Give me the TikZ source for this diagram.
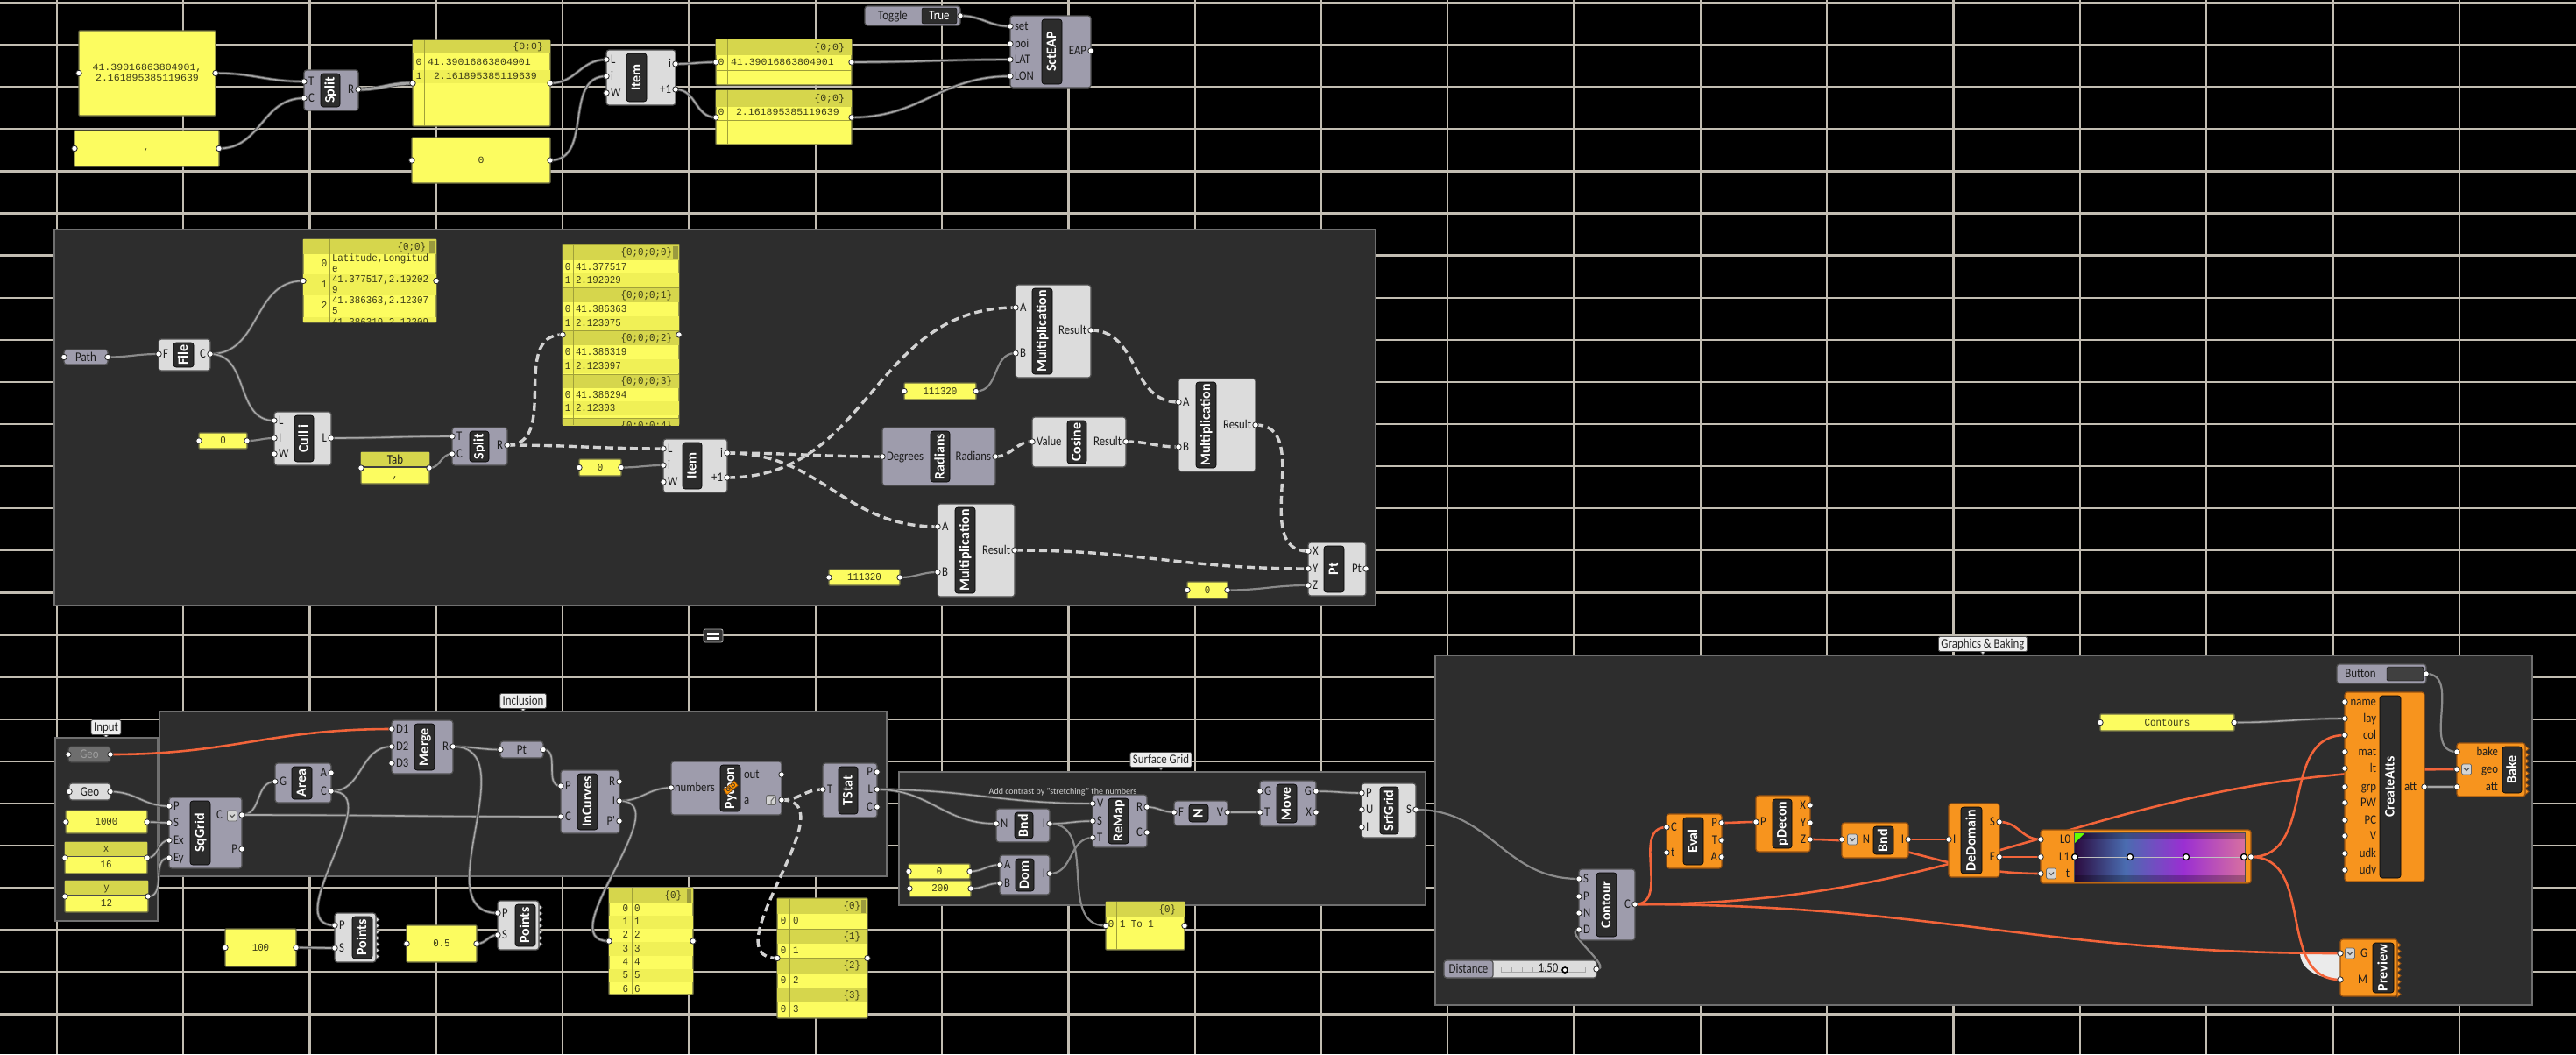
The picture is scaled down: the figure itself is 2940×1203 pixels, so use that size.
\documentclass[tikz,border=0pt]{standalone}
\usepackage{fontspec}
\setmainfont{Carlito}
\newfontfamily\lblf{Carlito}[FakeStretch=0.86]
\newfontfamily\monof{Liberation Mono}[FakeStretch=0.9]
\newfontfamily\monow{Liberation Mono}[FakeStretch=1.05]
\usetikzlibrary{fit}
\pgfdeclarelayer{bg}
\pgfdeclarelayer{wires}
\pgfsetlayers{bg,wires,main}
\definecolor{ghgray}{HTML}{9E9CAC}
\definecolor{ghlight}{HTML}{DCDCDC}
\definecolor{ghorange}{HTML}{F7941E}
\definecolor{ghoborder}{HTML}{9A5210}
\definecolor{ghborder}{HTML}{505050}
\definecolor{ghstrip}{HTML}{2C2C2C}
\definecolor{ghtext}{HTML}{1C1C1C}
\definecolor{panelY}{HTML}{FCFC60}
\definecolor{panelH}{HTML}{D6D64C}
\definecolor{panelR}{HTML}{F0F056}
\definecolor{panelB}{HTML}{6E6E44}
\definecolor{paneltext}{HTML}{3A3A18}
\definecolor{scrollc}{HTML}{9A9A3E}
\definecolor{gridc}{HTML}{C2BDB2}
\definecolor{groupc}{HTML}{2D2D2D}
\definecolor{groupb}{HTML}{707070}
\definecolor{wiregray}{HTML}{8A8A8A}
\definecolor{wiredark}{HTML}{4C4C4C}
\definecolor{wirelight}{HTML}{A6A6A6}
\definecolor{treewire}{HTML}{D2D2D2}
\definecolor{orangewire}{HTML}{F2643A}
\definecolor{labc}{HTML}{EEEEEE}
\definecolor{iconc}{HTML}{D4D4D4}
\definecolor{gA}{HTML}{2B0A3E}
\definecolor{gB}{HTML}{4A6CB0}
\definecolor{gC}{HTML}{9A2FD2}
\definecolor{gD}{HTML}{D870A0}
\pgfdeclarehorizontalshading{ghgrad}{100bp}{color(0bp)=(gA); color(25bp)=(gA); color(40bp)=(gB); color(57bp)=(gC); color(75bp)=(gD); color(100bp)=(gD)}
\tikzset{
  every node/.style={inner sep=0pt, outer sep=0pt},
  gray comp/.style={draw=ghborder, fill=ghgray, line width=1.2pt, rounded corners=3pt},
  light comp/.style={draw=ghborder, fill=ghlight, line width=1.2pt, rounded corners=3pt},
  orange comp/.style={draw=ghoborder, fill=ghorange, line width=1.2pt, rounded corners=3pt},
  geod/.style={draw=black!75, fill=black!57, line width=1.2pt, rounded corners=3pt},
  stripbox/.style={fill=ghstrip, draw=black, line width=0.6pt, rounded corners=3pt},
  stripf/.style={text=white, font=\fontsize{16}{16}\selectfont\bfseries, text height=10.5pt, text depth=1.5pt},
  portc/.style={circle, minimum size=6.5pt, fill=white, draw=black!85, line width=0.8pt},
  portlbl/.style={text=ghtext, font=\lblf\fontsize{14.8}{14.8}\selectfont, text height=10pt, text depth=1pt},
  lbltxt/.style={text=ghtext, font=\lblf\fontsize{15}{15}\selectfont, text height=10pt, text depth=1pt},
  notef/.style={text=black!18, font=\fontsize{10}{10}\selectfont},
  panelbox/.style={draw=panelB, fill=panelY, line width=1.2pt, rounded corners=1pt},
  ptext/.style={text=paneltext, font=\monof\fontsize{12}{12}\selectfont, text height=8pt, text depth=1pt},
  ptextw/.style={text=paneltext, font=\monow\fontsize{11}{11}\selectfont, text height=7.5pt, text depth=1pt},
  psep/.style={draw=panelH!75!black, line width=0.7pt},
  scroll/.style={fill=scrollc},
  wire/.style={draw=wiregray, line width=2.2pt},
  lwire/.style={draw=wiredark, double=wirelight, double distance=1.6pt, line width=0.9pt},
  twire/.style={draw=treewire, line width=3.4pt, dash pattern=on 9pt off 5pt},
  owire/.style={draw=orangewire, line width=2.6pt},
  gridl/.style={draw=gridc, line width=2.3pt},
  ghgroup/.style={fill=groupc, draw=groupb, line width=1.2pt},
  glabel/.style={fill=labc, draw=black!70, line width=0.8pt, rounded corners=1.5pt, inner xsep=3pt, inner ysep=2.5pt, text=black!85, font=\lblf\fontsize{15}{15}\selectfont, text height=10pt, text depth=2pt},
  gh/.style={out=0, in=180, looseness=1.1}
}
\newcounter{auto}
\newcommand\ghT[3][]{\stepcounter{auto}\node[#1] (t\theauto) at (#2) {#3};}
\newcommand\ghcomp[9]{%
  \node[#1, fit={(#3,#4)(#5,#6)}] (#2) {};
  \node[stripbox, fit={(#7,{#4+4})(#8,{#6-4})}] (#2s) {};
  \node[stripf, rotate=90] (#2t) at (#2s.center) {#9};}
\newcommand\ghportL[5]{\coordinate (#1) at (#2,#3); \node[portlbl, anchor=west] (#1l) at (#5,#3) {#4}; \node[portc] (#1c) at (#2,#3) {};}
\newcommand\ghportR[5]{\coordinate (#1) at (#2,#3); \node[portlbl, anchor=east] (#1l) at (#5,#3) {#4}; \node[portc] (#1c) at (#2,#3) {};}
\newcommand\ghpin[4]{\ghportL{#1}{#2}{#3}{#4}{{#2+5}}}
\newcommand\ghpout[4]{\ghportR{#1}{#2}{#3}{#4}{{#2-5}}}
\newcommand\ghparam[7]{%
  \node[#1, fit={(#3,#4)(#5,#6)}] (#2) {};
  \node[lbltxt] (#2t) at (#2.center) {#7};
  \coordinate (#2i) at (#2.west); \coordinate (#2o) at (#2.east);
  \node[portc] (#2ic) at (#2i) {}; \node[portc] (#2oc) at (#2o) {};}
\newcommand\ghpbox[6]{%
  \node[panelbox, fit={(#2,#3)(#4,#5)}] (#1) {};
  #6
  \coordinate (#1i) at (#1.west); \coordinate (#1o) at (#1.east);
  \node[portc] (#1ic) at (#1i) {}; \node[portc] (#1oc) at (#1o) {};}
\newcommand\ghsec[5]{\fill[panelH] (#1,#3) rectangle (#2,#4); \draw[psep] (#1,#3) -- (#2,#3); \ghT[ptext,anchor=east]{{#2-8},{(#3+#4)/2}}{#5}}
\newcommand\ghjag[5]{\foreach \k in {1,...,#3} {\filldraw[fill=#4, draw=#5, line width=0.7pt] (#1,{#2+7*(\k-1)}) -- ({#1+4},{#2+7*(\k-1)+3.5}) -- (#1,{#2+7*\k}) -- cycle;}}
\newcommand\ghicon[3]{\node[fill=iconc, draw=black!60, line width=0.7pt, rounded corners=1.5pt, minimum width=11pt, minimum height=12pt] (#1) at (#2,#3) {}; \draw[black!65, line width=1.3pt] ({#2-3},{#3-1.5}) -- (#2,{#3+1.5}) -- ({#2+3},{#3-1.5});}
\newcommand\ghlab[4]{\filldraw[fill=labc, draw=black!70, line width=0.8pt] ({#2-4},{#3+7}) -- (#2,{#3+12}) -- ({#2+4},{#3+7}) -- cycle; \node[glabel] (#1) at (#2,#3) {#4};}
\begin{document}
\begin{tikzpicture}[x=1pt,y=-1pt]
\useasboundingbox (0,0) rectangle (2940,1203);
\begin{pgfonlayer}{bg}
  \fill[black] (0,0) rectangle (2940,1203);
  \foreach \i in {0,...,19} {\draw[gridl] ({65+144.3*\i},0) -- ({65+144.3*\i},1203);}
  \foreach \i in {0,...,24} {\draw[gridl] (0,{3+48.1*\i}) -- (2940,{3+48.1*\i});}
  \node[ghgroup, fit={(62,262)(1570,691)}] (gMid) {};
  \node[ghgroup, fit={(63,842)(180,1051)}] (gInput) {};
  \node[ghgroup, fit={(182,812)(1012,1000)}] (gIncl) {};
  \node[ghgroup, fit={(1026,881)(1627,1033)}] (gSurf) {};
  \node[ghgroup, fit={(1638,748)(2890,1147)}] (gGfx) {};
\end{pgfonlayer}
% group labels
\ghlab{lInput}{121}{830}{Input}
\ghlab{lIncl}{597}{800}{Inclusion}
\ghlab{lSurf}{1325}{867}{Surface Grid}
\ghlab{lGfx}{2263}{735}{Graphics \& Baking}
% ================= TOP =================
\ghpbox{p1}{90}{35}{246}{132}{\ghT[ptextw]{168,77}{41.39016863804901,}\ghT[ptextw]{168,89}{2.161895385119639}}
\ghpbox{p2}{85}{149}{250}{190}{\ghT[ptextw]{167,168}{,}}
\ghcomp{gray comp}{sp1}{347}{80}{409}{126}{366}{388}{Split}
\ghpin{sp1T}{347}{93}{T} \ghpin{sp1C}{347}{112}{C} \ghpout{sp1R}{409}{102}{R}
\ghpbox{p3}{471}{46}{628}{144}{\fill[panelH] (471,46) rectangle (628,60); \ghT[ptextw,anchor=east]{620,53}{\{0;0\}} \fill[panelR] (471,80) rectangle (628,95); \draw[psep] (484,46) -- (484,144); \ghT[ptextw]{478,71}{0} \ghT[ptextw,anchor=west]{488,71}{41.39016863804901} \ghT[ptextw]{478,87}{1} \ghT[ptextw,anchor=west]{495,87}{2.161895385119639}}
\ghpbox{p4}{470}{157}{628}{209}{\ghT[ptextw]{549,183}{0}}
\ghcomp{light comp}{it1}{692}{57}{771}{120}{715}{738}{Item}
\ghpin{it1L}{692}{68}{L} \ghpin{it1i}{692}{87}{i} \ghpin{it1W}{692}{106}{W} \ghpout{it1io}{771}{73}{i} \ghpout{it1p}{771}{102}{+1}
\ghpbox{p5}{817}{45}{972}{97}{\fill[panelH] (817,45) rectangle (972,63); \ghT[ptextw,anchor=east]{964,54}{\{0;0\}} \draw[psep] (830,45) -- (830,97); \draw[psep] (817,80) -- (972,80); \ghT[ptextw]{823,71}{0} \ghT[ptextw,anchor=west]{834,71}{41.39016863804901}}
\ghpbox{p6}{817}{103}{972}{165}{\fill[panelH] (817,103) rectangle (972,122); \ghT[ptextw,anchor=east]{964,112}{\{0;0\}} \draw[psep] (830,103) -- (830,165); \draw[psep] (817,137) -- (972,137); \ghT[ptextw]{823,128}{0} \ghT[ptextw,anchor=west]{840,128}{2.161895385119639}}
\node[gray comp, fit={(987,7)(1096,29)}] (tog) {};
\node[lbltxt] (togl) at (1019,18) {Toggle};
\node[fill=ghstrip, draw=black, rounded corners=2pt, fit={(1052,9)(1092,27)}] (togb) {};
\node[lbltxt, text=white] (togv) at (1072,18) {True};
\coordinate (togo) at (1096,18); \node[portc] (togoc) at (togo) {};
\ghcomp{gray comp}{sct}{1153}{18}{1245}{100}{1189}{1212}{SctEAP}
\ghpin{sctset}{1153}{30}{set} \ghpin{sctpoi}{1153}{50}{poi} \ghpin{sctLAT}{1153}{68}{LAT} \ghpin{sctLON}{1153}{87}{LON} \ghpout{sctEAP}{1245}{58}{EAP}
% ================= MIDDLE GROUP =================
\ghparam{gray comp}{path}{73}{399}{123}{416}{Path}
\ghcomp{light comp}{file}{181}{387}{240}{423}{198}{221}{File}
\ghpin{fileF}{181}{404}{F} \ghpout{fileC}{240}{404}{C}
\ghpbox{csv}{346}{273}{498}{368}{\begin{scope}\clip (346,273) rectangle (498,368);
  \fill[panelH] (346,273) rectangle (498,290);
  \fill[scroll] (490,275) rectangle (496,289);
  \ghT[ptext,anchor=east]{486,282}{\{0;0\}}
  \fill[panelR] (346,313) rectangle (498,337);
  \fill[panelR] (346,362) rectangle (498,368);
  \draw[psep] (376,273) -- (376,368);
  \ghT[ptext]{370,301}{0} \ghT[ptext,anchor=west]{379,295}{Latitude,Longitud} \ghT[ptext,anchor=west]{379,307}{e}
  \ghT[ptext]{370,325}{1} \ghT[ptext,anchor=west]{379,319}{41.377517,2.19202} \ghT[ptext,anchor=west]{379,331}{9}
  \ghT[ptext]{370,349}{2} \ghT[ptext,anchor=west]{379,343}{41.386363,2.12307} \ghT[ptext,anchor=west]{379,355}{5}
  \ghT[ptext,anchor=west]{379,368}{41.386319,2.12309}
\end{scope}}
\ghcomp{light comp}{cull}{313}{470}{378}{531}{336}{358}{Cull i}
\ghpin{cullL}{313}{480}{L} \ghpin{cullI}{313}{500}{I} \ghpin{cullW}{313}{518}{W} \ghpout{cullLo}{378}{500}{L}
\ghpbox{c0}{227}{494}{282}{512}{\ghT[ptext]{254.5,503}{0}}
\ghpbox{tab}{412}{516}{490}{552}{\fill[panelH] (412,516) rectangle (490,533); \draw[black!75,line width=1.2pt] (412,533) -- (490,533); \ghT[lbltxt]{451,524.5}{Tab} \ghT[ptext]{451,542}{,}}
\ghcomp{gray comp}{sp2}{516}{488}{579}{531}{536}{558}{Split}
\ghpin{sp2T}{516}{498}{T} \ghpin{sp2C}{516}{518}{C} \ghpout{sp2R}{579}{508}{R}
\ghpbox{bp}{642}{279}{775}{485}{\begin{scope}\clip (642,279) rectangle (775,485);
  \ghsec{642}{775}{279}{297}{\{0;0;0;0\}}
  \fill[panelR] (642,312) rectangle (775,327);
  \ghT[ptext]{648,304.5}{0} \ghT[ptext,anchor=west]{657,304.5}{41.377517}
  \ghT[ptext]{648,319.5}{1} \ghT[ptext,anchor=west]{657,319.5}{2.192029}
  \ghsec{642}{775}{328}{345}{\{0;0;0;1\}}
  \fill[panelR] (642,361) rectangle (775,377);
  \ghT[ptext]{648,353}{0} \ghT[ptext,anchor=west]{657,353}{41.386363}
  \ghT[ptext]{648,369}{1} \ghT[ptext,anchor=west]{657,369}{2.123075}
  \ghsec{642}{775}{377}{394}{\{0;0;0;2\}}
  \fill[panelR] (642,410) rectangle (775,426);
  \ghT[ptext]{648,402}{0} \ghT[ptext,anchor=west]{657,402}{41.386319}
  \ghT[ptext]{648,418}{1} \ghT[ptext,anchor=west]{657,418}{2.123097}
  \ghsec{642}{775}{427}{443}{\{0;0;0;3\}}
  \fill[panelR] (642,458) rectangle (775,474);
  \ghT[ptext]{648,450.5}{0} \ghT[ptext,anchor=west]{657,450.5}{41.386294}
  \ghT[ptext]{648,466}{1} \ghT[ptext,anchor=west]{657,466}{2.12303}
  \ghsec{642}{775}{477}{495}{\{0;0;0;4\}}
  \draw[psep] (654,279) -- (654,485);
  \fill[scroll] (768,281) rectangle (774,296);
\end{scope}}
\ghpbox{i0}{661}{524}{709}{543}{\ghT[ptext]{685,533.5}{0}}
\ghcomp{light comp}{it2}{757}{501}{830}{562}{779}{801}{Item}
\ghpin{it2L}{757}{512}{L} \ghpin{it2i}{757}{531}{i} \ghpin{it2W}{757}{550}{W} \ghpout{it2io}{830}{517}{i} \ghpout{it2p}{830}{545}{+1}
\ghcomp{light comp}{mt}{1159}{325}{1245}{431}{1178}{1201}{Multiplication}
\ghpin{mtA}{1159}{351}{A} \ghpin{mtB}{1159}{403}{B} \ghpout{mtR}{1245}{377}{Result}
\ghpbox{n1}{1032}{437}{1114}{456}{\ghT[ptext]{1073,446.5}{111320}}
\ghcomp{gray comp}{rad}{1007}{488}{1136}{554}{1062}{1084}{Radians}
\ghpin{radD}{1007}{521}{Degrees} \ghpout{radR}{1136}{521}{Radians}
\ghcomp{light comp}{cos}{1178}{476}{1285}{533}{1218}{1240}{Cosine}
\ghpin{cosV}{1178}{504}{Value} \ghpout{cosR}{1285}{504}{Result}
\ghcomp{light comp}{mr}{1345}{432}{1433}{538}{1365}{1388}{Multiplication}
\ghpin{mrA}{1345}{459}{A} \ghpin{mrB}{1345}{510}{B} \ghpout{mrR}{1433}{485}{Result}
\ghcomp{light comp}{mb}{1070}{575}{1158}{681}{1090}{1113}{Multiplication}
\ghpin{mbA}{1070}{601}{A} \ghpin{mbB}{1070}{653}{B} \ghpout{mbR}{1158}{628}{Result}
\ghpbox{n2}{946}{650}{1027}{668}{\ghT[ptext]{986.5,659}{111320}}
\ghcomp{light comp}{pt}{1493}{619}{1559}{680}{1511}{1534}{Pt}
\ghpin{ptX}{1493}{629}{X} \ghpin{ptY}{1493}{649}{Y} \ghpin{ptZ}{1493}{668}{Z} \ghpout{ptP}{1559}{649}{Pt}
\ghpbox{z0}{1355}{664}{1401}{683}{\ghT[ptext]{1378,673.5}{0}}
\node[fill=black!80, draw=black!30, line width=0.8pt, rounded corners=2pt, fit={(803,718)(825,733)}] (gicon) {};
\fill[white] (807,721.5) rectangle (821,724.5); \fill[white] (807,727) rectangle (821,730);
% ================= INPUT / INCLUSION =================
\ghparam{geod}{geoD}{78}{852}{126}{870}{\textcolor{black!38}{Geo}}
\ghparam{light comp}{geoL}{79}{894}{126}{913}{Geo}
\ghpbox{k1000}{75}{925}{168}{951}{\ghT[ptext]{121.5,938}{1000}}
\ghpbox{px}{74}{961}{168}{997}{\fill[panelH] (74,961) rectangle (168,977); \draw[black!70, line width=1pt] (74,977) -- (168,977); \ghT[ptext]{121,969}{x} \ghT[ptext]{121,987}{16}}
\ghpbox{pny}{74}{1005}{169}{1041}{\fill[panelH] (74,1005) rectangle (169,1021); \draw[black!70, line width=1pt] (74,1021) -- (169,1021); \ghT[ptext]{121.5,1013}{y} \ghT[ptext]{121.5,1031}{12}}
\ghcomp{gray comp}{sq}{193}{910}{276}{991}{217}{240}{SqGrid}
\ghpin{sqP}{193}{920}{P} \ghpin{sqS}{193}{939}{S} \ghpin{sqEx}{193}{959}{Ex} \ghpin{sqEy}{193}{979}{Ey}
\ghportR{sqC}{276}{930}{C}{254} \ghpout{sqPo}{276}{969}{P}
\ghicon{sqicon}{265}{931}
\ghcomp{gray comp}{ar}{314}{871}{378}{916}{333}{356}{Area}
\ghpin{arG}{314}{892}{G} \ghpout{arA}{378}{882}{A} \ghpout{arC}{378}{903}{C}
\ghcomp{gray comp}{mg}{447}{822}{517}{883}{473}{496}{Merge}
\ghpin{mgD1}{447}{832}{D1} \ghpin{mgD2}{447}{852}{D2} \ghpin{mgD3}{447}{871}{D3} \ghpout{mgR}{517}{852}{R}
\ghparam{gray comp}{ptp}{571}{846}{620}{865}{Pt}
\ghcomp{gray comp}{ic}{640}{879}{707}{951}{659}{682}{InCurves}
\ghpin{icP}{640}{897}{P} \ghpin{icC}{640}{932}{C} \ghpout{icR}{707}{892}{R} \ghpout{icI}{707}{914}{I} \ghpout{icPp}{707}{937}{P'}
\ghcomp{gray comp}{pyt}{766}{869}{892}{930}{822}{845}{Python}
\ghportL{pytN}{766}{899}{numbers}{770} \ghportL{pytout}{892}{884}{out}{849} \ghportL{pyta}{892}{913}{a}{849}
\node[fill=iconc, draw=black!60, line width=0.7pt, rounded corners=1.5pt, minimum width=11pt, minimum height=11pt] (pyicon) at (880,913) {};
\draw[black!60, line width=1pt] (876,909) -- (884,909) -- (880,914) -- (880,918);
\node[fill=orange!85!yellow, draw=orange!50!black, line width=0.5pt, rotate=40, inner xsep=2pt, inner ysep=1pt, text=black!80, font=\fontsize{7}{7}\selectfont\bfseries] (oldtag) at (834,899) {OLD};
\ghcomp{gray comp}{ts}{939}{871}{1001}{933}{957}{979}{TStat}
\ghpin{tsT}{939}{901}{T} \ghpout{tsP}{1001}{881}{P} \ghpout{tsL}{1001}{901}{L} \ghpout{tsC}{1001}{921}{C}
\ghjag{429}{1046}{7}{ghlight}{ghborder}
\ghcomp{light comp}{pts1}{382}{1042}{429}{1098}{402}{425}{Points}
\ghpin{pts1P}{382}{1056}{P} \ghpin{pts1S}{382}{1082}{S}
\ghpbox{k100}{257}{1060}{338}{1103}{\ghT[ptext]{297.5,1081.5}{100}}
\ghpbox{k05}{464}{1056}{544}{1098}{\ghT[ptext]{504,1077}{0.5}}
\ghjag{615}{1032}{7}{ghlight}{ghborder}
\ghcomp{light comp}{pts2}{568}{1028}{615}{1084}{588}{611}{Points}
\ghpin{pts2P}{568}{1042}{P} \ghpin{pts2S}{568}{1067}{S}
\ghpbox{l7}{695}{1013}{791}{1135}{\begin{scope}\clip (695,1013) rectangle (791,1135);
  \fill[panelH] (695,1013) rectangle (791,1031);
  \ghT[ptext,anchor=east]{778,1022}{\{0\}}
  \fill[scroll] (784,1015) rectangle (789,1030);
  \fill[panelR] (695,1045) rectangle (791,1060); \fill[panelR] (695,1075) rectangle (791,1091); \fill[panelR] (695,1106) rectangle (791,1121);
  \draw[psep] (721,1013) -- (721,1135);
  \ghT[ptext,anchor=east]{717,1037}{0} \ghT[ptext,anchor=west]{724,1037}{0}
  \ghT[ptext,anchor=east]{717,1052}{1} \ghT[ptext,anchor=west]{724,1052}{1}
  \ghT[ptext,anchor=east]{717,1067}{2} \ghT[ptext,anchor=west]{724,1067}{2}
  \ghT[ptext,anchor=east]{717,1083}{3} \ghT[ptext,anchor=west]{724,1083}{3}
  \ghT[ptext,anchor=east]{717,1098}{4} \ghT[ptext,anchor=west]{724,1098}{4}
  \ghT[ptext,anchor=east]{717,1113}{5} \ghT[ptext,anchor=west]{724,1113}{5}
  \ghT[ptext,anchor=east]{717,1129}{6} \ghT[ptext,anchor=west]{724,1129}{6}
\end{scope}}
\ghpbox{l8}{887}{1025}{990}{1162}{\begin{scope}\clip (887,1025) rectangle (990,1162);
  \ghsec{887}{990}{1025}{1043}{\{0\}} \ghT[ptext]{894,1051}{0} \ghT[ptext,anchor=west]{905,1051}{0}
  \ghsec{887}{990}{1060}{1077}{\{1\}} \ghT[ptext]{894,1085}{0} \ghT[ptext,anchor=west]{905,1085}{1}
  \ghsec{887}{990}{1093}{1111}{\{2\}} \ghT[ptext]{894,1119}{0} \ghT[ptext,anchor=west]{905,1119}{2}
  \ghsec{887}{990}{1127}{1144}{\{3\}} \ghT[ptext]{894,1152}{0} \ghT[ptext,anchor=west]{905,1152}{3}
  \draw[psep] (901,1025) -- (901,1162);
  \fill[scroll] (983,1027) rectangle (988,1042);
\end{scope}}
% ================= SURFACE GRID =================
\ghT[notef]{1213,904}{Add contrast by "stretching" the numbers}
\ghcomp{gray comp}{bs}{1137}{923}{1198}{961}{1158}{1179}{Bnd}
\ghpin{bsN}{1137}{940}{N} \ghpout{bsI}{1198}{940}{I}
\ghcomp{gray comp}{rm}{1247}{907}{1309}{967}{1265}{1288}{ReMap}
\ghpin{rmV}{1247}{917}{V} \ghpin{rmS}{1247}{937}{S} \ghpin{rmT}{1247}{956}{T} \ghpout{rmR}{1309}{921}{R} \ghpout{rmC}{1309}{950}{C}
\ghpbox{s0}{1037}{986}{1107}{1003}{\ghT[ptext]{1072,994.5}{0}}
\ghpbox{s200}{1038}{1005}{1108}{1023}{\ghT[ptext]{1073,1014}{200}}
\ghcomp{gray comp}{dom}{1141}{976}{1198}{1021}{1159}{1180}{Dom}
\ghpin{domA}{1141}{987}{A} \ghpin{domB}{1141}{1008}{B} \ghpout{domI}{1198}{997}{I}
\ghcomp{gray comp}{nn}{1340}{914}{1401}{942}{1357}{1379}{N}
\ghpin{nnF}{1340}{927}{F} \ghpout{nnV}{1401}{927}{V}
\ghcomp{gray comp}{mv}{1438}{891}{1502}{943}{1457}{1480}{Move}
\ghpin{mvG}{1438}{903}{G} \ghpin{mvT}{1438}{927}{T} \ghpout{mvGo}{1502}{903}{G} \ghpout{mvX}{1502}{927}{X}
\ghcomp{light comp}{sg}{1554}{894}{1616}{956}{1575}{1596}{SrfGrid}
\ghpin{sgP}{1554}{905}{P} \ghpin{sgU}{1554}{924}{U} \ghpin{sgI}{1554}{944}{I} \ghpout{sgS}{1616}{924}{S}
\ghpbox{toone}{1262}{1029}{1352}{1084}{\fill[panelH] (1262,1029) rectangle (1352,1047); \ghT[ptext,anchor=east]{1342,1038}{\{0\}} \draw[psep] (1274,1029) -- (1274,1084); \ghT[ptext]{1268,1055}{0} \ghT[ptext,anchor=west]{1278,1055}{1 To 1}}
% ================= GRAPHICS & BAKING =================
\ghcomp{gray comp}{ct}{1802}{992}{1866}{1073}{1822}{1845}{Contour}
\ghpin{ctS}{1802}{1003}{S} \ghpin{ctP}{1802}{1023}{P} \ghpin{ctN}{1802}{1042}{N} \ghpin{ctD}{1802}{1061}{D} \ghpout{ctC}{1866}{1032}{C}
\node[light comp, fit={(1648,1096)(1822,1116)}] (sld) {};
\node[gray comp, fit={(1648,1096)(1704,1116)}] (sldl) {};
\ghT[lbltxt]{1676,1106}{Distance}
\draw[black!35, line width=0.8pt] (1713,1109) -- (1810,1109);
\foreach \x in {1713,1725,...,1810} {\draw[black!35, line width=0.8pt] (\x,1104) -- (\x,1109);}
\ghT[lbltxt]{1767,1105}{1.50}
\node[circle, draw=black, line width=1.6pt, fill=white, minimum size=6pt] (sldk) at (1786,1107) {};
\coordinate (sldo) at (1822,1106); \node[portc] (sldoc) at (sldo) {};
\ghcomp{orange comp}{ev}{1902}{929}{1965}{991}{1921}{1944}{Eval}
\ghpin{evC}{1902}{944}{C} \ghpin{evtt}{1902}{973}{t} \ghpout{evP}{1965}{939}{P} \ghpout{evT}{1965}{959}{T} \ghpout{evA}{1965}{978}{A}
\ghcomp{orange comp}{pd}{2004}{908}{2066}{972}{2023}{2045}{pDecon}
\ghpin{pdP}{2004}{938}{P} \ghpout{pdX}{2066}{919}{X} \ghpout{pdY}{2066}{939}{Y} \ghpout{pdZ}{2066}{958}{Z}
\ghcomp{orange comp}{bg}{2102}{939}{2178}{979}{2138}{2161}{Bnd}
\ghportR{bgN}{2102}{958}{N}{2134} \ghpout{bgI}{2178}{958}{I}
\ghicon{bgicon}{2114}{958}
\ghcomp{orange comp}{dd}{2224}{917}{2282}{1001}{2238}{2262}{DeDomain}
\ghpin{ddI}{2224}{958}{I} \ghpout{ddS}{2282}{938}{S} \ghpout{ddE}{2282}{978}{E}
\node[orange comp, fit={(2329,947)(2569,1008)}] (gr) {};
\shade[shading=ghgrad] (2367,950) rectangle (2562,1006);
\fill[black, opacity=0.25] (2367,950) rectangle (2562,957);
\fill[black, opacity=0.25] (2367,999) rectangle (2562,1006);
\draw[black!70, line width=1pt] (2367,950) rectangle (2562,1006);
\fill[green!60!yellow] (2368,951) -- (2379,951) -- (2368,962) -- cycle;
\draw[white!75!black, line width=1pt] (2368,978) -- (2561,978);
\foreach \x/\n in {2368/a,2431/b,2495/c,2561/d} {\node[circle, fill=white, draw=black, line width=1.3pt, minimum size=7pt] (gd\n) at (\x,978) {};}
\ghportR{grL0}{2329}{958}{L0}{2363} \ghportR{grL1}{2329}{978}{L1}{2362} \ghportR{grt}{2329}{997}{t}{2362}
\ghicon{gricon}{2341}{997}
\coordinate (gro) at (2569,978); \node[portc] (groc) at (gro) {};
\ghpbox{cp}{2397}{815}{2550}{834}{\ghT[ptext]{2473.5,824.5}{Contours}}
\node[gray comp, fit={(2667,758)(2769,780)}] (btn) {};
\ghT[lbltxt]{2694,769}{Button}
\node[fill=black!75, draw=black, rounded corners=1.5pt, fit={(2724,761)(2766,777)}] (btnb) {};
\coordinate (btno) at (2769,769); \node[portc] (btnoc) at (btno) {};
\ghcomp{orange comp}{ca}{2676}{790}{2767}{1006}{2716}{2740}{CreateAtts}
\ghportR{caname}{2676}{801}{name}{2712} \ghportR{calay}{2676}{820}{lay}{2712} \ghportR{cacol}{2676}{839}{col}{2712}
\ghportR{camat}{2676}{858}{mat}{2712} \ghportR{calt}{2676}{877}{lt}{2712} \ghportR{cagrp}{2676}{898}{grp}{2712}
\ghportR{caPW}{2676}{916}{PW}{2712} \ghportR{caPC}{2676}{936}{PC}{2712} \ghportR{caV}{2676}{954}{V}{2712}
\ghportR{caudk}{2676}{974}{udk}{2712} \ghportR{caudv}{2676}{993}{udv}{2712}
\ghportL{caatt}{2767}{898}{att}{2744}
\ghjag{2882}{851}{8}{ghorange}{ghoborder}
\ghcomp{orange comp}{bk}{2804}{848}{2882}{909}{2856}{2878}{Bake}
\ghportR{bkbake}{2804}{858}{bake}{2851} \ghportR{bkgeo}{2804}{878}{geo}{2851} \ghportR{bkatt}{2804}{898}{att}{2851}
\ghicon{bkicon}{2815}{878}
\ghjag{2736}{1075}{9}{ghorange}{ghoborder}
\ghcomp{orange comp}{pv}{2671}{1072}{2736}{1137}{2708}{2732}{Preview}
\ghportR{pvG}{2671}{1088}{G}{2702} \ghportR{pvM}{2671}{1118}{M}{2702}
\ghicon{pvicon}{2682}{1088}
% ================= WIRES =================
\begin{pgfonlayer}{wires}
  % top
  \draw[lwire] (p1o) to[gh] (sp1T);
  \draw[lwire] (p2o) to[gh] (sp1C);
  \draw[lwire, double distance=3pt] (sp1R) to[gh] (p3i);
  \draw[lwire] (p3o) to[gh] (it1L);
  \draw[lwire] (p4o) to[gh] (it1i);
  \draw[lwire] (it1io) to[gh] (p5i);
  \draw[lwire] (it1p) to[gh] (p6i);
  \draw[lwire] (togo) to[gh] (sctset);
  \draw[lwire] (p5o) to[gh] (sctLAT);
  \draw[lwire] (p6o) to[gh] (sctLON);
  % middle
  \draw[wire] (patho) to[gh] (fileF);
  \draw[lwire] (fileC) to[gh] (csvi);
  \draw[lwire] (fileC) to[gh] (cullL);
  \draw[wire] (c0o) to[gh] (cullI);
  \draw[lwire] (cullLo) to[gh] (sp2T);
  \draw[wire] (tabo) to[gh] (sp2C);
  \draw[twire] (sp2R) to[gh] (bpi);
  \draw[twire] (sp2R) to[gh] (it2L);
  \draw[wire] (i0o) to[gh] (it2i);
  \draw[twire] (it2io) to[gh] (radD);
  \draw[twire] (it2io) to[gh] (mbA);
  \draw[twire] (it2p) to[gh] (mtA);
  \draw[wire] (n1o) to[gh] (mtB);
  \draw[twire] (radR) to[gh] (cosV);
  \draw[twire] (cosR) to[gh] (mrB);
  \draw[twire] (mtR) to[gh] (mrA);
  \draw[twire] (mrR) to[gh] (ptX);
  \draw[twire] (mbR) to[gh] (ptY);
  \draw[wire] (n2o) to[gh] (mbB);
  \draw[wire] (z0o) to[gh] (ptZ);
  % inclusion
  \draw[owire] (geoDo) to[gh] (mgD1);
  \draw[lwire] (geoLo) to[gh] (sqP);
  \draw[lwire] (k1000o) to[gh] (sqS);
  \draw[lwire] (pxo) to[gh] (sqEx);
  \draw[lwire] (pnyo) to[gh] (sqEy);
  \draw[lwire] (sqC) to[gh] (arG);
  \draw[lwire] (sqC) to[gh] (icC);
  \draw[lwire] (arC) to[gh] (mgD2);
  \draw[lwire] (arC) to[gh] (pts1P);
  \draw[lwire] (k100o) to[gh] (pts1S);
  \draw[lwire] (mgR) to[gh] (ptpi);
  \draw[lwire] (mgR) to[gh] (pts2P);
  \draw[lwire] (k05o) to[gh] (pts2S);
  \draw[lwire] (ptpo) to[gh] (icP);
  \draw[lwire] (icI) to[gh] (pytN);
  \draw[lwire] (icI) to[gh] (l7i);
  \draw[twire] (pyta) to[gh] (tsT);
  \draw[twire] (pyta) to[gh] (l8i);
  \draw[lwire] (tsL) to[gh] (rmV);
  \draw[lwire] (tsL) to[gh] (bsN);
  % surface grid
  \draw[lwire] (bsI) to[gh] (rmS);
  \draw[wire] (bsI) to[gh] (toonei);
  \draw[lwire] (s0o) to[gh] (domA);
  \draw[lwire] (s200o) to[gh] (domB);
  \draw[wire] (domI) to[gh] (rmT);
  \draw[lwire] (rmR) to[gh] (nnF);
  \draw[lwire] (nnV) to[gh] (mvT);
  \draw[lwire] (mvGo) to[gh] (sgP);
  \draw[wire] (sgS) to[gh] (ctS);
  % graphics
  \fill[white!92!black] (2625,1088) -- (2671,1088) -- (2671,1118) .. controls (2640,1116) and (2626,1104) .. (2625,1088) -- cycle;
  \draw[wire] (sldo) to[gh] (ctD);
  \draw[owire] (ctC) to[gh] (evC);
  \draw[owire] (ctC) to[gh] (bkgeo);
  \draw[owire] (ctC) to[gh] (pvG);
  \draw[owire] (evP) to[gh] (pdP);
  \draw[owire] (pdZ) to[gh] (bgN);
  \draw[owire] (pdZ) to[gh] (grt);
  \draw[owire] (bgI) to[gh] (ddI);
  \draw[owire] (ddS) to[gh] (grL0);
  \draw[owire] (ddE) to[gh] (grL1);
  \draw[owire] (gro) to[gh] (cacol);
  \draw[owire] (gro) to[gh] (pvM);
  \draw[lwire] (cpo) to[gh] (calay);
  \draw[wire] (btno) to[gh] (bkbake);
  \draw[lwire] (caattc) to[gh] (bkatt);
\end{pgfonlayer}
\end{tikzpicture}
\end{document}
